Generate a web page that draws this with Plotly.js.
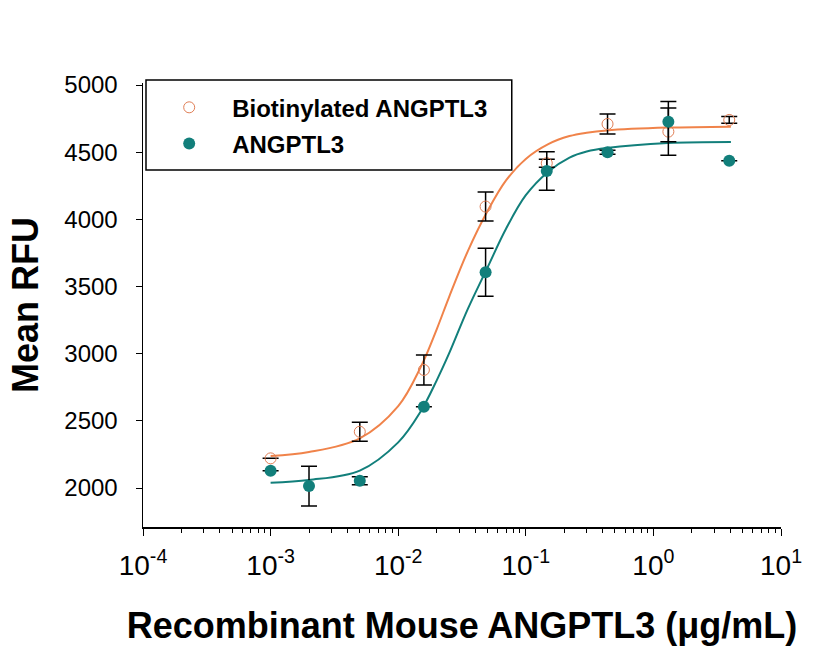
<!DOCTYPE html>
<html>
<head>
<meta charset="utf-8">
<script src="https://cdn.plot.ly/plotly-3.0.1.min.js"></script>
<style>html,body{margin:0;padding:0;background:#fff;}#chart{width:823px;height:653px;}</style>
</head>
<body>
<div id="chart"></div>
<script>
// Measured points
const biotX = [0.001, 0.005, 0.0159, 0.0484, 0.146, 0.437, 1.31, 3.93];
const biotY = [2221, 2419, 2879, 4095, 4418, 4710, 4653, 4740];
const biotErr = [0, 70, 112, 108, 30, 75, 175, 25];

const angX = [0.001, 0.002, 0.005, 0.0159, 0.0484, 0.146, 0.437, 1.31, 3.93];
const angY = [2129, 2015, 2054, 2605, 3606, 4360, 4500, 4727, 4437];
const angErr = [0, 148, 30, 0, 178, 143, 15, 150, 0];

// Fitted curves
const fitX = [0.001, 0.002, 0.005, 0.01, 0.015, 0.02, 0.025, 0.035, 0.05, 0.07, 0.1, 0.15, 0.22, 0.3, 0.43, 1.3, 4.05];
const biotFitY = [2238, 2268, 2370, 2610, 2900, 3180, 3420, 3760, 4060, 4290, 4450, 4560, 4620, 4645, 4662, 4683, 4690];
const angFitY = [2040, 2060, 2130, 2340, 2570, 2800, 3000, 3330, 3640, 3930, 4180, 4355, 4460, 4505, 4531, 4568, 4576];

const xTickVals = [1e-4, 1e-3, 1e-2, 1e-1, 1, 10];
const xTickText = ['10<sup>-4</sup>', '10<sup>-3</sup>', '10<sup>-2</sup>', '10<sup>-1</sup>', '10<sup>0</sup>', '10<sup>1</sup>'];
const yTickVals = [2000, 2500, 3000, 3500, 4000, 4500, 5000];

const seriesNames = ['Biotinylated ANGPTL3', 'ANGPTL3'];
const orange = '#F0834A';
const teal = '#127F7B';
const FONT = 'Arial, "Liberation Sans", sans-serif';

const traces = [
  {x: fitX, y: biotFitY, mode: 'lines', line: {color: orange, width: 2, shape: 'spline', smoothing: 1}, showlegend: false, hoverinfo: 'skip'},
  {x: fitX, y: angFitY, mode: 'lines', line: {color: teal, width: 2, shape: 'spline', smoothing: 1}, showlegend: false, hoverinfo: 'skip'},
  {x: biotX, y: biotY, name: seriesNames[0], mode: 'markers', legendgroup: 'a',
   marker: {symbol: 'circle-open', size: 11, color: '#E07E55', line: {width: 1, color: '#E07E55'}},
   error_y: {type: 'data', array: biotErr, visible: true, color: '#000', thickness: 1.5, width: 8}},
  {x: angX, y: angY, name: seriesNames[1], mode: 'markers', legendgroup: 'b',
   marker: {symbol: 'circle', size: 12, color: teal},
   error_y: {type: 'data', array: angErr, visible: true, color: '#000', thickness: 1.5, width: 8}}
];

const layout = {
  width: 823, height: 653,
  margin: {l: 143, r: 42, t: 83, b: 126},
  paper_bgcolor: '#fff', plot_bgcolor: '#fff',
  font: {family: FONT, color: '#000'},
  showlegend: true,
  legend: {
    x: 0.005, y: 0.995, xanchor: 'left', yanchor: 'top',
    bgcolor: 'rgba(0,0,0,0)', borderwidth: 0,
    font: {family: FONT, size: 24, color: '#000', weight: 'bold'},
    itemwidth: 76, traceorder: 'grouped', tracegroupgap: 2
  },
  shapes: [{type: 'rect', xref: 'paper', yref: 'paper', x0: 0.0047, x1: 0.578, y0: 0.804, y1: 1.0068,
            line: {color: '#000', width: 1.5}, fillcolor: 'rgba(0,0,0,0)'}],
  xaxis: {
    type: 'log', range: [-4, 1],
    tickmode: 'array', tickvals: xTickVals, ticktext: xTickText,
    ticks: 'outside', ticklen: 7, tickwidth: 1, tickcolor: '#000',
    minor: {dtick: 'D1', ticks: 'outside', ticklen: 4, tickwidth: 1, tickcolor: '#000', showgrid: false},
    showline: true, linecolor: '#000', linewidth: 1.5, showgrid: false, zeroline: false,
    tickfont: {family: FONT, size: 28, color: '#000'},
    ticklabelstandoff: 6,
    title: {text: 'Recombinant Mouse ANGPTL3 (μg/mL)', font: {family: FONT, size: 36, color: '#000', weight: 'bold'}, standoff: 32}
  },
  yaxis: {
    range: [1710, 5015],
    tickmode: 'array', tickvals: yTickVals,
    ticks: 'outside', ticklen: 6, tickwidth: 1, tickcolor: '#000',
    showline: true, linecolor: '#000', linewidth: 1.5, showgrid: false, zeroline: false,
    tickfont: {family: FONT, size: 24, color: '#000'},
    ticklabelstandoff: 13,
    title: {text: 'Mean RFU', font: {family: FONT, size: 36, color: '#000', weight: 'bold'}, standoff: 14}
  }
};

Plotly.newPlot('chart', traces, layout, {displayModeBar: false, staticPlot: true});
</script>
</body>
</html>
